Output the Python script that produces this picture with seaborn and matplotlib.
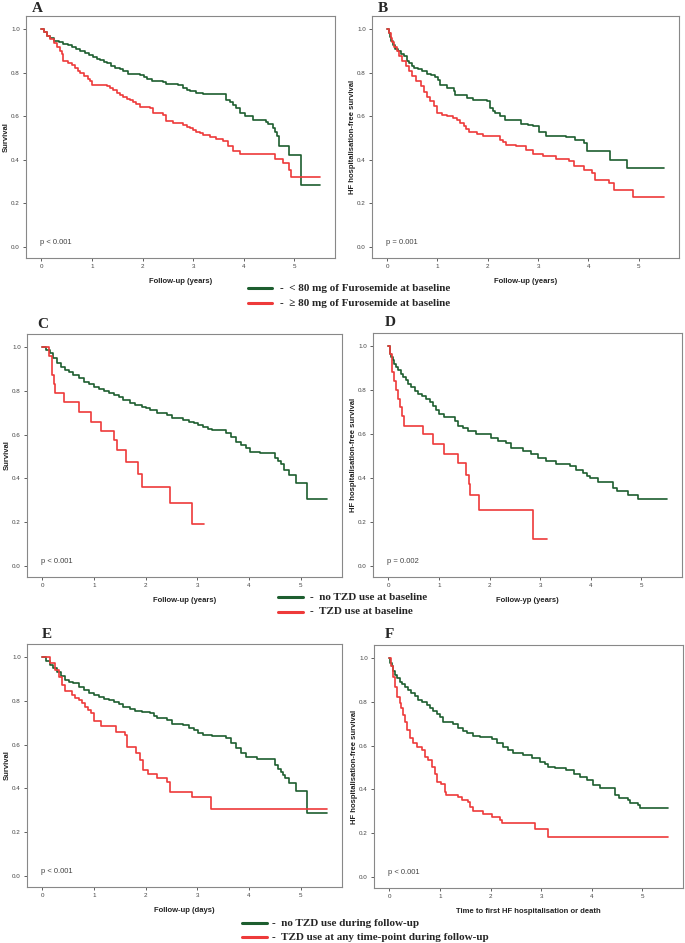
import numpy as np
import pandas as pd
import matplotlib
matplotlib.use("Agg")
import matplotlib.pyplot as plt
import seaborn as sns
from matplotlib.lines import Line2D

# --- A: survival by furosemide dose ---
a_low_t = [0, 0.06, 0.12, 0.18, 0.26, 0.35, 0.44, 0.52, 0.60, 0.68, 0.77, 0.87, 0.95, 1.03, 1.10, 1.16, 1.23, 1.29,
           1.38, 1.46, 1.55, 1.62, 1.72, 1.95, 2.02, 2.08, 2.18, 2.41, 2.47, 2.70, 2.80, 2.87, 2.93, 3.06, 3.20,
           3.65, 3.72, 3.79, 3.85, 3.92, 4.02, 4.18, 4.44, 4.48, 4.57, 4.62, 4.66, 4.70, 4.90, 5.13, 5.5]
a_low_s = [1.0, 0.985, 0.97, 0.958, 0.945, 0.94, 0.932, 0.925, 0.918, 0.91, 0.90, 0.89, 0.88, 0.873, 0.865, 0.857,
           0.85, 0.843, 0.83, 0.82, 0.815, 0.808, 0.795, 0.788, 0.78, 0.773, 0.763, 0.758, 0.75, 0.745, 0.73, 0.722,
           0.716, 0.708, 0.703, 0.676, 0.665, 0.652, 0.638, 0.615, 0.60, 0.585, 0.576, 0.566, 0.546, 0.53, 0.51,
           0.462, 0.424, 0.283, 0.283]
a_high_t = [0, 0.06, 0.12, 0.18, 0.25, 0.31, 0.37, 0.41, 0.44, 0.52, 0.60, 0.66, 0.72, 0.77, 0.85, 0.92, 0.96, 1.0,
            1.29, 1.36, 1.42, 1.49, 1.56, 1.62, 1.70, 1.75, 1.82, 1.88, 1.95, 2.15, 2.21, 2.41, 2.47, 2.60, 2.80,
            2.87, 2.93, 3.00, 3.06, 3.13, 3.20, 3.33, 3.46, 3.59, 3.69, 3.79, 3.92, 4.51, 4.61, 4.77, 4.90, 4.93, 5.5]
a_high_s = [1.0, 0.985, 0.97, 0.955, 0.935, 0.918, 0.9, 0.885, 0.852, 0.845, 0.835, 0.822, 0.808, 0.798, 0.785,
            0.77, 0.76, 0.745, 0.737, 0.73, 0.72, 0.705, 0.698, 0.688, 0.68, 0.675, 0.665, 0.655, 0.642, 0.636,
            0.615, 0.607, 0.58, 0.57, 0.56, 0.552, 0.545, 0.537, 0.53, 0.522, 0.515, 0.507, 0.495, 0.485, 0.462,
            0.44, 0.428, 0.428, 0.404, 0.385, 0.352, 0.321, 0.321]

# --- B: HF hospitalisation-free survival by furosemide dose ---
b_low_t = [0, 0.03, 0.05, 0.08, 0.11, 0.16, 0.21, 0.28, 0.34, 0.40, 0.44, 0.49, 0.54, 0.62, 0.70, 0.80, 0.88, 0.96,
           1.02, 1.06, 1.19, 1.32, 1.35, 1.58, 1.71, 1.98, 2.04, 2.10, 2.14, 2.24, 2.34, 2.43, 2.66, 2.80, 2.89,
           3.02, 3.15, 3.55, 3.74, 3.91, 3.97, 4.43, 4.76, 5.5]
b_low_s = [1.0, 0.98, 0.965, 0.945, 0.928, 0.91, 0.898, 0.885, 0.875, 0.855, 0.843, 0.83, 0.82, 0.815, 0.81, 0.795,
           0.788, 0.778, 0.765, 0.745, 0.73, 0.714, 0.696, 0.684, 0.676, 0.668, 0.638, 0.625, 0.615, 0.6, 0.584,
           0.581, 0.566, 0.56, 0.554, 0.53, 0.508, 0.505, 0.492, 0.477, 0.439, 0.40, 0.362, 0.362]
b_high_t = [0, 0.03, 0.07, 0.10, 0.14, 0.19, 0.24, 0.30, 0.37, 0.43, 0.50, 0.58, 0.67, 0.73, 0.80, 0.86, 0.93, 0.99,
            1.10, 1.19, 1.30, 1.39, 1.45, 1.52, 1.57, 1.62, 1.78, 1.91, 2.24, 2.30, 2.37, 2.57, 2.76, 2.89, 3.09,
            3.35, 3.61, 3.71, 3.91, 4.07, 4.14, 4.40, 4.50, 4.89, 5.5]
b_high_s = [1.0, 0.98, 0.959, 0.94, 0.92, 0.898, 0.875, 0.852, 0.83, 0.808, 0.783, 0.76, 0.737, 0.713, 0.69, 0.668,
            0.645, 0.615, 0.605, 0.60, 0.59, 0.581, 0.568, 0.554, 0.542, 0.53, 0.52, 0.508, 0.492, 0.48, 0.469,
            0.462, 0.446, 0.428, 0.416, 0.404, 0.393, 0.37, 0.355, 0.339, 0.309, 0.294, 0.263, 0.232, 0.232]

# --- C: survival by TZD use at baseline ---
c_no_t = [0, 0.07, 0.14, 0.21, 0.28, 0.36, 0.44, 0.52, 0.60, 0.70, 0.80, 0.90, 1.0, 1.10, 1.19, 1.29, 1.39, 1.48,
          1.56, 1.69, 1.80, 1.92, 2.00, 2.08, 2.21, 2.41, 2.51, 2.73, 2.83, 2.93, 3.02, 3.10, 3.20, 3.29, 3.56,
          3.66, 3.75, 3.85, 3.95, 4.02, 4.21, 4.51, 4.56, 4.61, 4.67, 4.77, 4.90, 5.12, 5.5]
c_no_s = [1.0, 0.985, 0.973, 0.95, 0.927, 0.91, 0.896, 0.885, 0.873, 0.858, 0.843, 0.83, 0.817, 0.808, 0.80, 0.792,
          0.782, 0.77, 0.759, 0.744, 0.737, 0.728, 0.72, 0.713, 0.698, 0.69, 0.675, 0.667, 0.66, 0.652, 0.645,
          0.637, 0.628, 0.621, 0.606, 0.591, 0.568, 0.553, 0.537, 0.522, 0.515, 0.492, 0.48, 0.466, 0.438, 0.415,
          0.38, 0.305, 0.305]
c_tzd_t = [0, 0.13, 0.18, 0.22, 0.25, 0.41, 0.70, 0.93, 1.13, 1.39, 1.45, 1.62, 1.85, 1.92, 2.47, 2.90, 3.13]
c_tzd_s = [1.0, 0.96, 0.875, 0.83, 0.79, 0.75, 0.705, 0.66, 0.618, 0.576, 0.53, 0.476, 0.42, 0.36, 0.289, 0.194, 0.194]

# --- D: HF hospitalisation-free survival by TZD use at baseline ---
d_no_t = [0, 0.03, 0.06, 0.09, 0.12, 0.15, 0.20, 0.25, 0.30, 0.35, 0.40, 0.45, 0.52, 0.58, 0.66, 0.75, 0.82, 0.88,
          0.95, 1.01, 1.11, 1.31, 1.37, 1.47, 1.57, 1.73, 1.93, 2.03, 2.16, 2.33, 2.43, 2.66, 2.82, 2.96, 3.12,
          3.32, 3.58, 3.71, 3.85, 3.92, 3.98, 4.14, 4.44, 4.51, 4.74, 4.93, 5.5]
d_no_s = [1.0, 0.966, 0.95, 0.936, 0.92, 0.905, 0.89, 0.875, 0.86, 0.844, 0.83, 0.813, 0.798, 0.783, 0.772, 0.76,
          0.745, 0.729, 0.71, 0.691, 0.676, 0.66, 0.638, 0.627, 0.615, 0.602, 0.599, 0.584, 0.569, 0.561, 0.535,
          0.523, 0.508, 0.492, 0.477, 0.462, 0.454, 0.439, 0.424, 0.41, 0.40, 0.382, 0.355, 0.339, 0.324, 0.304,
          0.304]
d_tzd_t = [0, 0.03, 0.07, 0.11, 0.15, 0.20, 0.23, 0.28, 0.32, 0.68, 0.88, 1.11, 1.37, 1.54, 1.59, 1.62, 1.80, 2.86,
           3.13]
d_tzd_s = [1.0, 0.966, 0.882, 0.841, 0.80, 0.76, 0.722, 0.683, 0.638, 0.599, 0.553, 0.511, 0.469, 0.416, 0.373,
           0.324, 0.255, 0.125, 0.125]

# --- E: survival by TZD use during follow-up ---
e_no_t = [0, 0.07, 0.14, 0.21, 0.28, 0.36, 0.44, 0.52, 0.60, 0.70, 0.80, 0.90, 1.0, 1.10, 1.19, 1.29, 1.39, 1.48,
          1.56, 1.69, 1.80, 1.92, 2.08, 2.15, 2.21, 2.41, 2.51, 2.73, 2.83, 2.93, 3.02, 3.10, 3.29, 3.56, 3.66,
          3.75, 3.85, 3.95, 4.15, 4.51, 4.56, 4.61, 4.66, 4.70, 4.77, 4.90, 5.12, 5.5]
e_no_s = [1.0, 0.982, 0.965, 0.95, 0.934, 0.915, 0.896, 0.888, 0.881, 0.865, 0.85, 0.838, 0.827, 0.818, 0.809,
          0.803, 0.797, 0.785, 0.774, 0.762, 0.756, 0.751, 0.744, 0.732, 0.721, 0.713, 0.695, 0.69, 0.678, 0.667,
          0.655, 0.644, 0.64, 0.629, 0.606, 0.583, 0.56, 0.545, 0.533, 0.507, 0.49, 0.476, 0.46, 0.446, 0.423,
          0.389, 0.29, 0.29]
e_tzd_t = [0, 0.15, 0.24, 0.31, 0.37, 0.44, 0.57, 0.63, 0.70, 0.77, 0.83, 0.88, 0.93, 1.0, 1.13, 1.42, 1.59, 1.64,
           1.82, 1.88, 1.95, 2.05, 2.21, 2.41, 2.47, 2.90, 3.26, 5.5]
e_tzd_s = [1.0, 0.973, 0.942, 0.911, 0.873, 0.847, 0.827, 0.815, 0.802, 0.79, 0.774, 0.76, 0.744, 0.71, 0.686, 0.66,
           0.644, 0.588, 0.56, 0.53, 0.484, 0.466, 0.45, 0.43, 0.385, 0.362, 0.308, 0.308]

# --- F: HF hospitalisation-free survival by TZD use during follow-up ---
f_no_t = [0, 0.02, 0.05, 0.08, 0.11, 0.16, 0.21, 0.26, 0.31, 0.38, 0.44, 0.50, 0.57, 0.65, 0.74, 0.80, 0.87, 0.94,
          1.0, 1.07, 1.26, 1.36, 1.45, 1.53, 1.66, 1.79, 2.02, 2.12, 2.25, 2.35, 2.45, 2.65, 2.81, 2.98, 3.07,
          3.14, 3.27, 3.50, 3.64, 3.77, 3.90, 4.03, 4.16, 4.46, 4.53, 4.72, 4.76, 4.92, 4.95, 5.5]
f_no_s = [1.0, 0.98, 0.962, 0.943, 0.924, 0.908, 0.893, 0.88, 0.87, 0.855, 0.84, 0.825, 0.809, 0.798, 0.786, 0.773,
          0.76, 0.746, 0.733, 0.71, 0.699, 0.679, 0.667, 0.656, 0.644, 0.638, 0.629, 0.611, 0.595, 0.58, 0.565,
          0.557, 0.542, 0.527, 0.515, 0.504, 0.496, 0.489, 0.473, 0.458, 0.443, 0.42, 0.405, 0.374, 0.359, 0.351,
          0.336, 0.328, 0.316, 0.316]
f_tzd_t = [0, 0.03, 0.07, 0.11, 0.16, 0.21, 0.24, 0.28, 0.32, 0.36, 0.41, 0.47, 0.54, 0.64, 0.70, 0.77, 0.84, 0.90,
           0.94, 1.03, 1.10, 1.13, 1.36, 1.43, 1.56, 1.59, 1.66, 1.86, 2.02, 2.19, 2.22, 2.88, 3.13, 5.5]
f_tzd_s = [1.0, 0.962, 0.916, 0.87, 0.824, 0.794, 0.771, 0.74, 0.71, 0.672, 0.634, 0.611, 0.595, 0.58, 0.55, 0.534,
           0.504, 0.473, 0.435, 0.427, 0.389, 0.374, 0.366, 0.351, 0.344, 0.321, 0.302, 0.29, 0.275, 0.26, 0.247,
           0.221, 0.183, 0.183]

letters = ["A", "B", "C", "D", "E", "F"]
xlabels = ["Follow-up (years)", "Follow-up (years)", "Follow-up (years)", "Follow-yp (years)",
           "Follow-up (days)", "Time to first HF hospitalisation or death"]
ylabels = ["Survival", "HF hospitalisation-free survival"] * 3
pvalues = ["p < 0.001", "p = 0.001", "p < 0.001", "p = 0.002", "p < 0.001", "p < 0.001"]
legend_labels = [["< 80 mg of Furosemide at baseline", "\u2265 80 mg of Furosemide at baseline"],
                 ["no TZD use at baseline", "TZD use at baseline"],
                 ["no TZD use during follow-up", "TZD use at any time-point during follow-up"]]

curves = [(a_low_t, a_low_s, a_high_t, a_high_s), (b_low_t, b_low_s, b_high_t, b_high_s),
          (c_no_t, c_no_s, c_tzd_t, c_tzd_s), (d_no_t, d_no_s, d_tzd_t, d_tzd_s),
          (e_no_t, e_no_s, e_tzd_t, e_tzd_s), (f_no_t, f_no_s, f_tzd_t, f_tzd_s)]

GREEN = "#1d5e2f"
RED = "#ee3a3a"
W, H = 685, 943

sns.set_style("white")
plt.rcParams["font.family"] = ["Liberation Sans", "DejaVu Sans"]

fig = plt.figure(figsize=(W / 100, H / 100), dpi=100)

# axes boxes in pixels: left, top, right, bottom
boxes = [(26, 16, 335, 258), (372, 16, 679, 258),
         (27, 334, 342, 577), (373, 333, 682, 577),
         (27, 644, 342, 887), (374, 645, 683, 888)]
letter_pos = [(37, 8), (383, 8), (43, 325), (390, 322), (47, 634), (389, 635)]


def px_rect(l, t, r, b):
    return [l / W, 1 - b / H, (r - l) / W, (b - t) / H]


for i, box in enumerate(boxes):
    ax = fig.add_axes(px_rect(*box))
    t1, s1, t2, s2 = curves[i]
    d1 = pd.DataFrame({"time": t1, "surv": s1})
    d2 = pd.DataFrame({"time": t2, "surv": s2})
    sns.lineplot(data=d1, x="time", y="surv", ax=ax, color=GREEN, lw=1.2,
                 drawstyle="steps-post", estimator=None)
    sns.lineplot(data=d2, x="time", y="surv", ax=ax, color=RED, lw=1.2,
                 drawstyle="steps-post", estimator=None)
    ax.set_xlim(-0.3, 5.8)
    ax.set_ylim(-0.05, 1.06)
    ax.set_xticks(range(6))
    ax.set_yticks(np.arange(0, 1.01, 0.2))
    ax.set_yticklabels([f"{v:.1f}" for v in np.arange(0, 1.01, 0.2)])
    ax.tick_params(axis="both", labelsize=4.5, length=2.5, width=0.6, pad=2,
                   colors="#444444", direction="out", left=True, bottom=True)
    for sp in ax.spines.values():
        sp.set_color("#888888")
        sp.set_linewidth(0.8)
    ax.set_xlabel(xlabels[i], fontsize=5.5, fontweight="bold", labelpad=6, color="#222222")
    ax.set_ylabel(ylabels[i], fontsize=5.5, fontweight="bold", labelpad=1, color="#222222")
    ax.text(-0.02, 0.02, pvalues[i], fontsize=5.5, color="#444444", va="center", ha="left")
    lx, ly = letter_pos[i]
    fig.text(lx / W, 1 - ly / H, letters[i], fontsize=11, fontweight="bold",
             family=["Liberation Serif", "DejaVu Serif"], ha="center", va="center")

# legends under each row: line start, line end, text x, y of first and second row
legend_pos = [(248, 272, 280, 288, 303), (278, 303, 310, 597, 612), (242, 267, 272, 923, 937)]
for (x0, x1, tx, y1, y2), labels in zip(legend_pos, legend_labels):
    for y, col, lab in [(y1, GREEN, labels[0]), (y2, RED, labels[1])]:
        fig.add_artist(Line2D([x0 / W, x1 / W], [1 - y / H, 1 - y / H], color=col, lw=2.2))
        fig.text(tx / W, 1 - y / H, "-  " + lab, fontsize=8, fontweight="bold",
                 family=["Liberation Serif", "DejaVu Serif"], va="center", ha="left")

fig.savefig("out.png", dpi=100)
